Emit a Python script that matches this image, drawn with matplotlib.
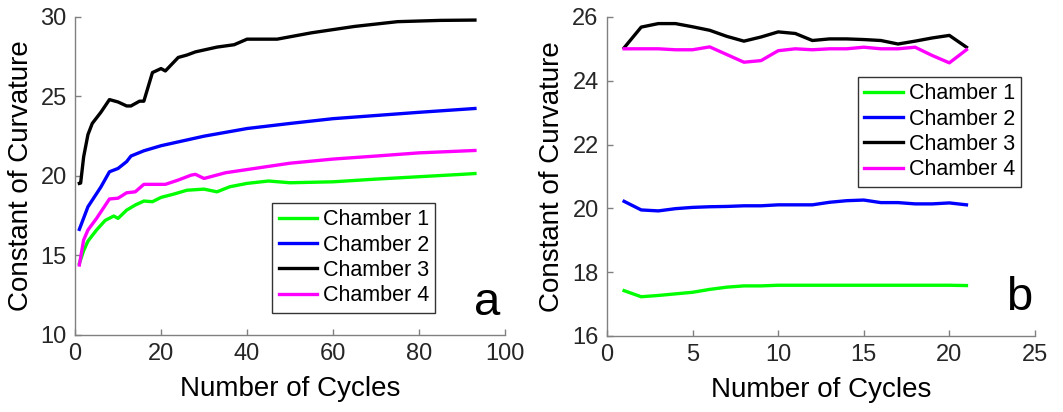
import matplotlib
matplotlib.use("Agg")
import matplotlib.pyplot as plt

plt.rcParams['font.family'] = ['Liberation Sans', 'DejaVu Sans']

labels = ["Chamber 1", "Chamber 2", "Chamber 3", "Chamber 4"]
colors = ["#00ff00", "#0000ff", "#000000", "#ff00ff"]

# Panel a
a_x1 = [1, 2, 3, 5, 7, 9, 10, 12, 14, 16, 18, 20, 23, 26, 30, 33, 36, 40, 45, 50, 60, 70, 80, 90, 93]
a_c1 = [14.5, 15.3, 15.9, 16.6, 17.2, 17.48, 17.33, 17.85, 18.17, 18.42, 18.38, 18.65, 18.86, 19.1,
        19.17, 19.0, 19.32, 19.53, 19.68, 19.57, 19.63, 19.8, 19.95, 20.1, 20.15]
a_x2 = [1, 3, 6, 8, 10, 12, 13, 16, 20, 25, 30, 40, 50, 60, 70, 80, 93]
a_c2 = [16.64, 18.06, 19.3, 20.26, 20.47, 20.9, 21.25, 21.58, 21.9, 22.2, 22.5, 22.98, 23.3, 23.6,
        23.8, 24.0, 24.24]
a_x3 = [1, 1.3, 2, 3, 4, 6, 8, 10, 12, 13, 15, 16, 18, 20, 21, 24, 26, 28, 33, 37, 40, 47, 55, 65, 75, 85, 93]
a_c3 = [19.53, 19.55, 21.2, 22.6, 23.3, 24.0, 24.8, 24.65, 24.4, 24.4, 24.7, 24.7, 26.5, 26.75, 26.6,
        27.45, 27.6, 27.8, 28.1, 28.25, 28.6, 28.6, 29.0, 29.4, 29.7, 29.78, 29.8]
a_x4 = [1, 2, 3, 5, 8, 10, 12, 14, 16, 21, 24, 27, 28, 30, 35, 40, 50, 60, 70, 80, 93]
a_c4 = [14.4, 15.97, 16.6, 17.33, 18.55, 18.6, 18.94, 19.0, 19.47, 19.47, 19.74, 20.05, 20.1, 19.84,
        20.2, 20.4, 20.8, 21.06, 21.25, 21.45, 21.6]

# Panel b
b_x = list(range(1, 22))
b_c1 = [17.42, 17.23, 17.27, 17.32, 17.37, 17.46, 17.53, 17.57, 17.57, 17.59, 17.59, 17.59, 17.59,
        17.59, 17.59, 17.59, 17.59, 17.59, 17.59, 17.59, 17.58]
b_c2 = [20.22, 19.95, 19.92, 19.99, 20.03, 20.05, 20.06, 20.08, 20.08, 20.11, 20.11, 20.11, 20.19,
        20.24, 20.26, 20.18, 20.18, 20.14, 20.14, 20.17, 20.11]
b_c3 = [25.03, 25.68, 25.79, 25.79, 25.69, 25.58, 25.39, 25.24, 25.37, 25.53, 25.48, 25.26, 25.31,
        25.31, 25.29, 25.26, 25.15, 25.24, 25.34, 25.42, 25.05]
b_c4 = [25.0, 25.0, 25.0, 24.97, 24.97, 25.06, 24.82, 24.58, 24.63, 24.94, 25.0, 24.97, 25.0, 25.0,
        25.05, 25.0, 25.0, 25.05, 24.79, 24.56, 24.97]

a_xticks = [0, 20, 40, 60, 80, 100]
a_yticks = [10, 15, 20, 25, 30]
b_xticks = [0, 5, 10, 15, 20, 25]
b_yticks = [16, 18, 20, 22, 24, 26]

fig = plt.figure(figsize=(10.63, 4.12), dpi=100)
axa = fig.add_axes([0.0706, 0.187, 0.4045, 0.772])
axb = fig.add_axes([0.571, 0.1845, 0.4026, 0.7745])

text_col = "#262626"
spine_col = "#808080"
lw = 2.4


def style(ax, xt, yt, xlim, ylim):
    ax.set_xlim(*xlim)
    ax.set_ylim(*ylim)
    ax.set_xticks(xt)
    ax.set_yticks(yt)
    for s in ["top", "right"]:
        ax.spines[s].set_visible(False)
    for s in ["left", "bottom"]:
        ax.spines[s].set_color(spine_col)
        ax.spines[s].set_linewidth(1.0)
    ax.tick_params(direction="in", length=4, width=1.0, color=spine_col,
                   labelsize=17, labelcolor=text_col, pad=6)
    ax.set_xlabel("Number of Cycles", fontsize=20, color="#000000", labelpad=8)
    ax.set_ylabel("Constant of Curvature", fontsize=20, color="#000000", labelpad=5)


def add_legend(ax, loc, anchor):
    leg = ax.legend(loc=loc, bbox_to_anchor=anchor, fontsize=15.5,
                    frameon=True, fancybox=False, handlelength=1.8, handletextpad=0.25,
                    borderpad=0.3, labelspacing=0.2, borderaxespad=0)
    leg.get_frame().set_edgecolor("#333333")
    leg.get_frame().set_linewidth(1.0)
    leg.get_frame().set_alpha(1)
    return leg


series_a = [(a_x1, a_c1), (a_x2, a_c2), (a_x3, a_c3), (a_x4, a_c4)]
for (x, y), c, l in zip(series_a, colors, labels):
    axa.plot(x, y, color=c, lw=lw, label=l)
style(axa, a_xticks, a_yticks, (0, 100), (10, 30))
add_legend(axa, "lower right", (0.838, 0.07))
axa.text(0.958, 0.063, "a", transform=axa.transAxes, fontsize=34, ha="center",
         va="baseline", color="#000000")

for y, c, l in zip([b_c1, b_c2, b_c3, b_c4], colors, labels):
    axb.plot(b_x, y, color=c, lw=lw, label=l)
style(axb, b_xticks, b_yticks, (0, 25), (16, 26))
add_legend(axb, "upper right", (0.968, 0.812))
axb.text(0.962, 0.08, "b", transform=axb.transAxes, fontsize=34, ha="center",
         va="baseline", color="#000000")

fig.savefig("out.png", dpi=100)
